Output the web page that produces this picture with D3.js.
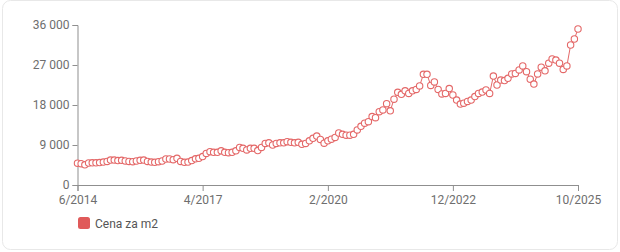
<!DOCTYPE html>
<html>
<head>
<meta charset="utf-8">
<script src="https://cdn.jsdelivr.net/npm/d3@7"></script>
<style>
  html, body { margin: 0; padding: 0; background: #fff; }
  svg { display: block; font-family: Roboto, "Open Sans", sans-serif; }
</style>
</head>
<body>
<svg id="chart" width="620" height="252"></svg>
<script>
// ---- data ----
const seriesName = "Cena za m2";
const startMonth = "2014-06";   // first observation (monthly series)
const values = [
  4900, 4800, 4550, 4950, 5000, 5000, 5050, 5150, 5300, 5600,
  5600, 5500, 5550, 5400, 5300, 5250, 5400, 5550, 5600, 5300,
  5150, 5100, 5250, 5400, 5850, 5850, 5700, 6000, 5300, 5100,
  5150, 5500, 5900, 6000, 6400, 7100, 7500, 7350, 7350, 7700,
  7350, 7275, 7350, 7700, 8450, 8250, 7900, 8250, 8250, 7750,
  8450, 9350, 9500, 9000, 9350, 9500, 9500, 9750, 9600, 9500,
  9600, 9150, 9350, 9950, 10500, 11000, 10250, 9400, 9950, 10300,
  10700, 11700, 11400, 11200, 11200, 11400, 12400, 13200, 13900, 14250,
  15400, 15150, 16500, 16900, 18300, 16700, 19300, 20850, 20400, 21200,
  20600, 21200, 21500, 22300, 24900, 24900, 22400, 23200, 21500, 20500,
  20600, 21700, 20250, 19100, 18200, 18400, 18800, 19100, 19900, 20600,
  20900, 21400, 20600, 24500, 22500, 23600, 23500, 24000, 25000, 25100,
  25900, 26800, 25500, 23800, 22700, 25000, 26500, 25700, 27400, 28350,
  28100, 27400, 26000, 26800, 31500, 32850, 35100
];
const yTicks = [0, 9000, 18000, 27000, 36000];
const xTickLabels = ["6/2014", "4/2017", "2/2020", "12/2022", "10/2025"];

// ---- build ----
const parse = d3.timeParse("%Y-%m");
const t0 = parse(startMonth);
const data = values.map((v, i) => ({ date: d3.timeMonth.offset(t0, i), value: v }));
const xTickDates = xTickLabels.map(s => { const [m, y] = s.split("/"); return new Date(+y, +m - 1, 1); });

const svg = d3.select("#chart");
const color = "#e46868";
const axisColor = "#8f8f8f";
const textColor = "#6e6e6e";

// card frame
svg.append("rect")
  .attr("x", 2.5).attr("y", 0.5).attr("width", 615).attr("height", 249)
  .attr("rx", 8).attr("ry", 8)
  .attr("fill", "#fff").attr("stroke", "#e8e8e8").attr("stroke-width", 1);

const x = d3.scaleTime().domain([xTickDates[0], xTickDates[xTickDates.length - 1]]).range([77.5, 578]);
const y = d3.scaleLinear().domain([0, 36000]).range([185, 25]);

const fmt = v => v === 0 ? "0" : d3.format(",")(v).replace(/,/g, " ");

const gx = svg.append("g").attr("transform", "translate(0,185)")
  .call(d3.axisBottom(x).tickValues(xTickDates).tickSize(6).tickPadding(4)
    .tickFormat((d, i) => xTickLabels[i]));
const gy = svg.append("g").attr("transform", "translate(77.5,0)")
  .call(d3.axisLeft(y).tickValues(yTicks).tickSize(5).tickPadding(3).tickFormat(fmt));

[gx, gy].forEach(g => {
  g.select(".domain").attr("stroke", axisColor);
  g.selectAll(".tick line").attr("stroke", axisColor);
  g.selectAll(".tick text").attr("fill", textColor).attr("font-size", 12)
    .attr("font-family", "Roboto, 'Open Sans', sans-serif");
});

const line = d3.line().x(d => x(d.date)).y(d => y(d.value));
svg.append("path").datum(data)
  .attr("fill", "none").attr("stroke", color).attr("stroke-width", 1).attr("d", line);

svg.append("g").selectAll("circle").data(data).join("circle")
  .attr("cx", d => x(d.date)).attr("cy", d => y(d.value)).attr("r", 3.2)
  .attr("fill", "#fff").attr("stroke", color).attr("stroke-width", 1.1);

// legend
const lg = svg.append("g").attr("transform", "translate(78,217)");
lg.append("rect").attr("width", 12).attr("height", 12).attr("rx", 2.5)
  .attr("fill", "#e05a5a");
lg.append("text").attr("x", 17).attr("y", 10.5).text(seriesName)
  .attr("font-size", 12).attr("fill", "#555");
</script>
</body>
</html>
